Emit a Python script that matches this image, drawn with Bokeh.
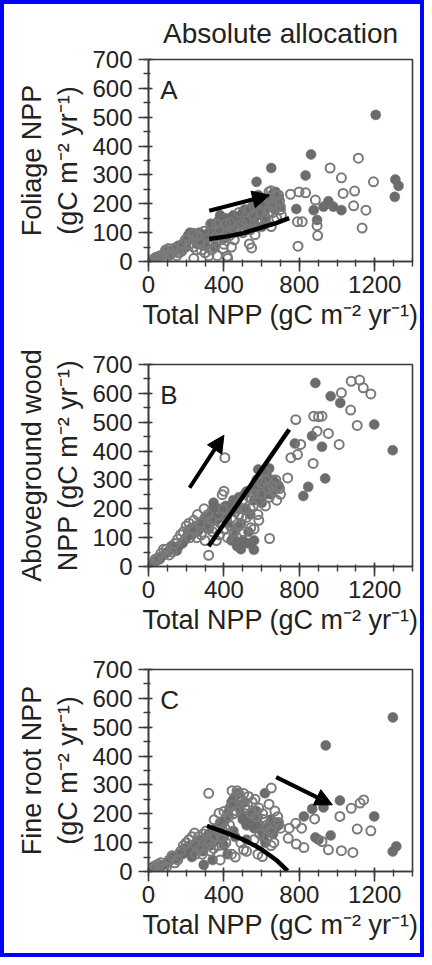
from bokeh.plotting import figure
from bokeh.layouts import column
from bokeh.models import Range1d, Label, Arrow, NormalHead, FixedTicker
from bokeh.embed import file_html
from bokeh.resources import INLINE

# ---------------- data ----------------
x_ticks = [0, 400, 800, 1200]
y_ticks = [0, 100, 200, 300, 400, 500, 600, 700]
title_text = "Absolute allocation"
x_label = "Total NPP (gC m\u207b\u00b2 yr\u207b\u00b9)"
y_labels = ["Foliage NPP\n(gC m\u207b\u00b2 yr\u207b\u00b9)",
            "Aboveground wood\nNPP (gC m\u207b\u00b2 yr\u207b\u00b9)",
            "Fine root NPP\n(gC m\u207b\u00b2 yr\u207b\u00b9)"]
panel_letters = ["A", "B", "C"]

# Panel A : foliage
a_filled_x = [862, 651, 833, 573, 674, 582, 784, 876, 954, 928, 980, 1023, 894, 1309, 1326, 1306, 1205,
              30, 60, 80, 100, 120, 140, 150, 170, 190, 200, 210, 220, 230, 250, 260, 280, 300, 320, 340,
              360, 380, 400, 420, 440, 460, 470, 490, 500, 520, 540, 560, 580, 600, 620, 640, 660, 680,
              700, 300, 350, 400, 450, 520, 600, 660, 690,
              50, 90, 110, 130, 160, 180, 200, 240, 270, 290, 310, 330, 350, 370, 390, 410, 430, 450,
              480, 510, 530, 550, 570, 590, 610, 630, 650, 670, 560, 620, 440, 380, 500, 540]
a_filled_y = [371, 324, 298, 276, 241, 230, 182, 178, 209, 190, 190, 178, 144, 284, 262, 224, 508,
              10, 20, 25, 30, 35, 40, 50, 45, 55, 70, 90, 100, 80, 70, 60, 75, 90, 100, 110,
              95, 120, 130, 125, 140, 150, 130, 160, 145, 165, 170, 150, 175, 160, 180, 200, 190, 210,
              190, 60, 50, 80, 100, 120, 120, 235, 220,
              15, 40, 20, 30, 55, 40, 50, 90, 100, 55, 80, 130, 120, 140, 100, 150, 110, 160,
              140, 180, 150, 190, 160, 200, 170, 190, 210, 180, 130, 140, 120, 160, 170, 140]
a_open_x = [1113, 963, 1023, 1193, 1093, 1032, 1088, 1153, 1133, 753, 798, 833, 885, 894, 897, 793, 790,
            815, 639, 677, 651, 565, 535, 547, 331, 241, 417,
            20, 40, 70, 90, 110, 130, 160, 180, 240, 260, 280, 300, 320, 340, 360, 380, 400, 410, 430,
            440, 460, 480, 500, 520, 540, 560, 580, 600, 620, 640, 660, 680, 700, 690, 650,
            10, 55, 85, 105, 150, 175, 195, 215, 235, 255, 275, 295, 315, 335, 355, 375, 395, 415,
            435, 455, 475, 495, 515, 535, 555, 575, 595, 615, 635, 655, 675, 695, 705, 365, 420, 240]
a_open_y = [358, 324, 290, 276, 244, 236, 193, 178, 116, 233, 241, 238, 213, 124, 90, 53, 138,
            138, 241, 190, 121, 93, 61, 47, 130, 98, 18,
            5, 15, 20, 35, 25, 45, 30, 60, 50, 90, 40, 30, 20, 70, 130, 80, 60, 130, 90,
            50, 110, 170, 100, 140, 110, 190, 140, 200, 150, 220, 170, 150, 180, 230, 245,
            2, 10, 15, 45, 20, 35, 75, 60, 95, 40, 65, 105, 60, 40, 85, 110, 45, 95,
            135, 75, 120, 130, 110, 180, 160, 120, 170, 200, 170, 200, 230, 210, 160, 20, 10, 10]
a_curve_x = [322, 417, 504, 590, 677, 746]
a_curve_y = [78, 87, 98, 116, 133, 150]
a_arrow = [322, 176, 642, 230]

# Panel B : aboveground wood
b_filled_x = [885, 966, 1017, 1197, 1295, 776, 867, 920, 937, 847, 821, 559, 582, 625, 642, 345,
              40, 70, 100, 130, 160, 190, 210, 230, 250, 270, 290, 310, 330, 350, 380, 400, 420, 440,
              460, 480, 500, 510, 530, 560, 580, 600, 620, 640, 660, 680, 470, 490, 600, 640, 450, 520,
              30, 60, 90, 120, 150, 180, 200, 220, 260, 300, 320, 340, 360, 390, 410, 430, 450, 470,
              490, 510, 540, 550, 570, 590, 610, 630, 650, 670, 690, 530, 560, 480, 440]
b_filled_y = [636, 590, 567, 492, 403, 426, 452, 415, 305, 276, 244, 58, 336, 319, 284, 221,
              20, 35, 50, 60, 70, 90, 120, 110, 140, 130, 160, 150, 180, 170, 200, 180, 150, 210,
              130, 240, 90, 200, 120, 230, 270, 220, 250, 280, 300, 270, 70, 60, 330, 340, 100, 260,
              15, 25, 45, 70, 55, 80, 100, 130, 120, 170, 130, 200, 160, 170, 210, 190, 230, 200,
              150, 250, 180, 270, 240, 290, 260, 300, 250, 290, 280, 80, 90, 80, 90]
b_open_x = [1075, 1120, 1139, 1179, 1023, 1072, 1107, 1011, 781, 876, 920, 902, 894, 954, 807, 755,
            790, 873, 738, 405, 400, 391, 642, 319, 542,
            20, 50, 80, 110, 140, 170, 200, 220, 240, 260, 280, 300, 320, 340, 360, 380, 400, 420,
            440, 460, 480, 500, 520, 540, 560, 580, 600, 620, 640, 660, 680, 700, 620, 560, 480,
            10, 35, 65, 95, 125, 155, 185, 215, 235, 255, 275, 295, 315, 335, 355, 375, 395, 415,
            435, 455, 475, 495, 515, 535, 555, 575, 595, 615, 635, 655, 675, 695, 585, 505]
b_open_y = [642, 646, 619, 598, 602, 542, 489, 423, 509, 521, 521, 519, 469, 461, 423, 377,
            388, 357, 307, 377, 261, 249, 97, 39, 134,
            10, 30, 60, 40, 80, 110, 140, 100, 160, 180, 110, 90, 140, 120, 90, 150, 130, 100,
            170, 190, 140, 230, 170, 200, 250, 180, 290, 210, 240, 260, 230, 250, 300, 130, 180,
            5, 25, 45, 60, 50, 95, 120, 150, 130, 100, 150, 200, 180, 160, 130, 110, 200, 170,
            140, 120, 210, 170, 200, 240, 210, 300, 250, 330, 270, 280, 300, 270, 160, 120]
b_curve_x = [319, 532, 746]
b_curve_y = [70, 272, 475]
b_arrow = [218, 273, 400, 455]

# Panel C : fine roots
c_filled_x = [940, 1296, 1015, 1197, 966, 885, 902, 1295, 1314, 928, 824, 868, 617, 469, 293,
              40, 70, 100, 130, 160, 190, 220, 240, 260, 280, 300, 320, 340, 360, 380, 400, 420, 440,
              460, 480, 500, 520, 540, 560, 580, 600, 620, 640, 660, 680, 450, 520, 340, 420,
              30, 60, 90, 120, 150, 180, 210, 230, 250, 270, 290, 310, 330, 350, 370, 390, 410, 430,
              450, 470, 490, 510, 530, 550, 570, 590, 610, 630, 650, 670, 690, 480, 460, 400]
c_filled_y = [437, 534, 246, 191, 125, 118, 110, 69, 87, 222, 191, 217, 271, 271, 23,
              10, 20, 30, 50, 60, 80, 90, 70, 100, 110, 90, 130, 100, 150, 170, 120, 200, 240,
              260, 220, 180, 160, 200, 150, 190, 140, 100, 160, 130, 170, 140, 110, 40, 60,
              5, 15, 25, 40, 45, 60, 70, 50, 80, 90, 70, 120, 90, 130, 110, 160, 180, 220,
              250, 230, 200, 240, 190, 170, 210, 160, 120, 140, 180, 150, 160, 270, 120, 90]
c_open_x = [1141, 1122, 1075, 1015, 1107, 1179, 954, 1023, 1084, 920, 881, 651, 639, 319, 443, 746,
            781, 812, 741, 784, 824, 504, 604, 348, 374, 400, 244,
            20, 50, 80, 110, 140, 170, 200, 230, 250, 270, 290, 310, 330, 350, 370, 390, 410, 430,
            450, 470, 490, 510, 530, 550, 570, 590, 610, 630, 650, 670, 690, 460, 520, 580,
            10, 35, 65, 95, 125, 155, 185, 215, 245, 265, 285, 305, 325, 345, 365, 385, 405, 425,
            445, 465, 485, 505, 525, 545, 565, 585, 605, 625, 645, 665, 685, 700, 380, 440, 490, 560]
c_open_y = [248, 237, 219, 191, 147, 141, 75, 72, 66, 104, 182, 289, 233, 271, 280, 150,
            167, 150, 115, 95, 83, 75, 52, 179, 202, 208, 133,
            15, 25, 10, 40, 30, 70, 100, 120, 60, 80, 130, 110, 70, 120, 90, 140, 100, 160,
            200, 280, 250, 220, 260, 240, 190, 130, 180, 120, 90, 210, 170, 50, 70, 60,
            10, 20, 30, 15, 55, 40, 90, 110, 95, 120, 60, 140, 100, 80, 140, 120, 150, 190,
            230, 210, 260, 270, 230, 200, 250, 220, 200, 160, 140, 100, 190, 150, 40, 60, 100, 110]
c_curve_x = [310, 417, 504, 590, 677, 738]
c_curve_y = [158, 133, 110, 81, 40, 2]
c_arrow = [677, 327, 975, 231]

# ---------------- styling ----------------
FONT = "Liberation Sans"
FILL_GREY = "#6c6c6c"
OPEN_GREY = "#7a7a7a"
INK = "#222222"
FRAME = "#3a3a3a"


def make_panel(i, fx, fy, ox, oy, cx, cy, arrow, top, bottom, title=None):
    p = figure(frame_width=264, frame_height=202,
               min_border_left=144, min_border_right=8,
               min_border_top=top, min_border_bottom=bottom,
               x_range=Range1d(0, 1400), y_range=Range1d(0, 700),
               output_backend="svg", toolbar_location=None,
               background_fill_color="white", border_fill_color="white")
    if title is not None:
        p.title.text = title
        p.title.text_font = FONT
        p.title.text_font_size = "28px"
        p.title.text_font_style = "normal"
        p.title.text_color = INK
        p.title.align = "center"
        p.title.standoff = 22
    p.grid.visible = False
    p.outline_line_color = FRAME
    p.outline_line_width = 1.6

    p.xaxis.ticker = FixedTicker(ticks=x_ticks, minor_ticks=list(range(0, 1401, 100)))
    p.yaxis.ticker = FixedTicker(ticks=y_ticks, minor_ticks=list(range(0, 701, 50)))
    for ax in (p.xaxis, p.yaxis):
        ax.axis_line_color = FRAME
        ax.axis_line_width = 1.6
        ax.major_tick_line_color = FRAME
        ax.major_tick_line_width = 1.6
        ax.minor_tick_line_color = FRAME
        ax.minor_tick_line_width = 1.4
        ax.major_tick_in = 4
        ax.major_tick_out = 10
        ax.minor_tick_in = 2
        ax.minor_tick_out = 5
        ax.major_label_text_font = FONT
        ax.major_label_text_font_size = "24px"
        ax.major_label_text_color = INK
        ax.axis_label_text_font = FONT
        ax.axis_label_text_font_size = "27px"
        ax.axis_label_text_font_style = "normal"
        ax.axis_label_text_color = INK
    p.xaxis.major_label_standoff = 4
    p.xaxis.axis_label_standoff = 4
    p.yaxis.major_label_standoff = 6
    p.yaxis.axis_label_standoff = 6
    p.xaxis.axis_label = x_label
    p.yaxis.axis_label = y_labels[i]

    p.scatter(fx, fy, marker="circle", size=10, fill_color=FILL_GREY,
              line_color=FILL_GREY, line_width=0.5)
    p.scatter(ox, oy, marker="circle", size=9, fill_color=None,
              line_color=OPEN_GREY, line_width=2)
    p.line(cx, cy, line_color="black", line_width=4.5)
    p.add_layout(Arrow(x_start=arrow[0], y_start=arrow[1], x_end=arrow[2], y_end=arrow[3],
                       line_color="black", line_width=4,
                       end=NormalHead(size=17, fill_color="black", line_color="black")))
    p.add_layout(Label(x=62, y=595, text=panel_letters[i], text_font=FONT,
                       text_font_size="26px", text_color=INK, text_baseline="alphabetic"))
    return p


p1 = make_panel(0, a_filled_x, a_filled_y, a_open_x, a_open_y, a_curve_x, a_curve_y, a_arrow,
                55, 78, title=title_text)
p2 = make_panel(1, b_filled_x, b_filled_y, b_open_x, b_open_y, b_curve_x, b_curve_y, b_arrow,
                25, 78)
p3 = make_panel(2, c_filled_x, c_filled_y, c_open_x, c_open_y, c_curve_x, c_curve_y, c_arrow,
                25, 82)

layout = column(p1, p2, p3, spacing=0, styles={"border": "4px solid #0000FF"})

open("out.html", "w").write(file_html(layout, INLINE))
